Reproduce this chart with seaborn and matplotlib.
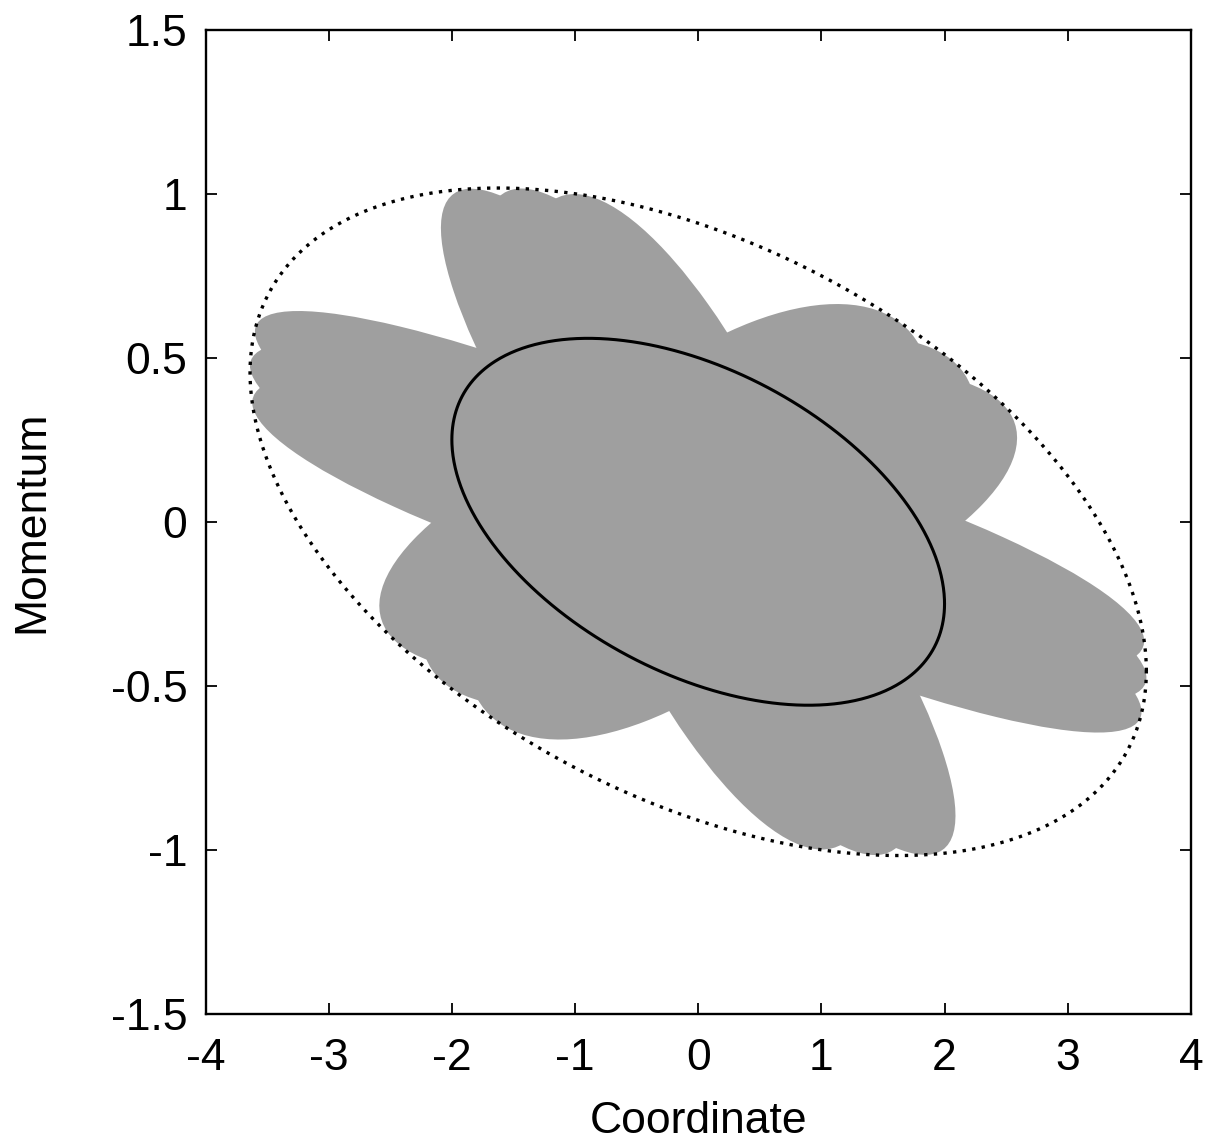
import numpy as np
import pandas as pd
import matplotlib
matplotlib.use("Agg")
import matplotlib.pyplot as plt
from matplotlib.patches import Ellipse
from matplotlib.transforms import Affine2D
import seaborn as sns

# Twiss parameters of the lattice (beta, alpha)
twiss_beta = 4.0
twiss_alpha = 0.5

# Matched beam emittance and envelope emittance
matched_emittance = 1.0
envelope_emittance = 3.31

# Mismatched beam ellipse in normalized phase space: semi-axes and
# orientation (degrees) on each of the nine recorded turns
petal_semi_major = 1.82
petal_semi_minor = 0.549
petal_angles_deg = [171.0, 178.6, 186.2,
                    47.5, 55.7, 63.9,
                    105.0, 112.9, 120.8]

x_ticks = [-4, -3, -2, -1, 0, 1, 2, 3, 4]
y_ticks = [-1.5, -1, -0.5, 0, 0.5, 1, 1.5]
x_tick_labels = ["-4", "-3", "-2", "-1", "0", "1", "2", "3", "4"]
y_tick_labels = ["-1.5", "-1", "-0.5", "0", "0.5", "1", "1.5"]

sns.set_theme(style="ticks")
plt.rcParams["font.family"] = ["Liberation Sans", "DejaVu Sans"]

fig = plt.figure(figsize=(12.09, 11.40), dpi=100)
ax = fig.add_axes([0.170, 0.1105, 0.815, 0.8636])

# normalized (X, P) -> physical (x, x')
sb = np.sqrt(twiss_beta)
to_phys = Affine2D(np.array([[sb, 0.0, 0.0],
                             [-twiss_alpha / sb, 1.0 / sb, 0.0],
                             [0.0, 0.0, 1.0]]))

for ang in petal_angles_deg:
    e = Ellipse((0, 0), 2 * petal_semi_major, 2 * petal_semi_minor, angle=ang,
                facecolor="#9f9f9f", edgecolor="none", linewidth=0,
                transform=to_phys + ax.transData, zorder=1)
    ax.add_patch(e)


def twiss_ellipse(emittance, n=721):
    t = np.linspace(0, 2 * np.pi, n)
    r = np.sqrt(emittance)
    X, P = r * np.cos(t), r * np.sin(t)
    x = sb * X
    xp = (P - twiss_alpha * X) / sb
    return pd.DataFrame({"x": x, "xp": xp, "i": np.arange(n)})


matched = twiss_ellipse(matched_emittance)
envelope = twiss_ellipse(envelope_emittance)

sns.lineplot(data=matched, x="x", y="xp", sort=False, estimator=None,
             color="black", linewidth=2.2, ax=ax, zorder=3)
sns.lineplot(data=envelope, x="x", y="xp", sort=False, estimator=None,
             color="black", linewidth=2.4, linestyle=(0, (1, 1.9)),
             dash_capstyle="butt", ax=ax, zorder=3)

ax.set_xlim(-4, 4)
ax.set_ylim(-1.5, 1.5)
ax.set_xticks(x_ticks)
ax.set_xticklabels(x_tick_labels)
ax.set_yticks(y_ticks)
ax.set_yticklabels(y_tick_labels)

ax.tick_params(direction="in", length=8, width=1.3, top=True, right=True,
               labelsize=32, color="black", labelcolor="black")
ax.tick_params(axis="x", pad=17)
ax.tick_params(axis="y", pad=13)
for s in ax.spines.values():
    s.set_linewidth(1.7)
    s.set_color("black")

ax.set_xlabel("Coordinate", fontsize=32, color="black", labelpad=16)
ax.set_ylabel("Momentum", fontsize=32, color="black", labelpad=42)
ax.grid(False)

fig.savefig("out.png", dpi=100, facecolor="white")
